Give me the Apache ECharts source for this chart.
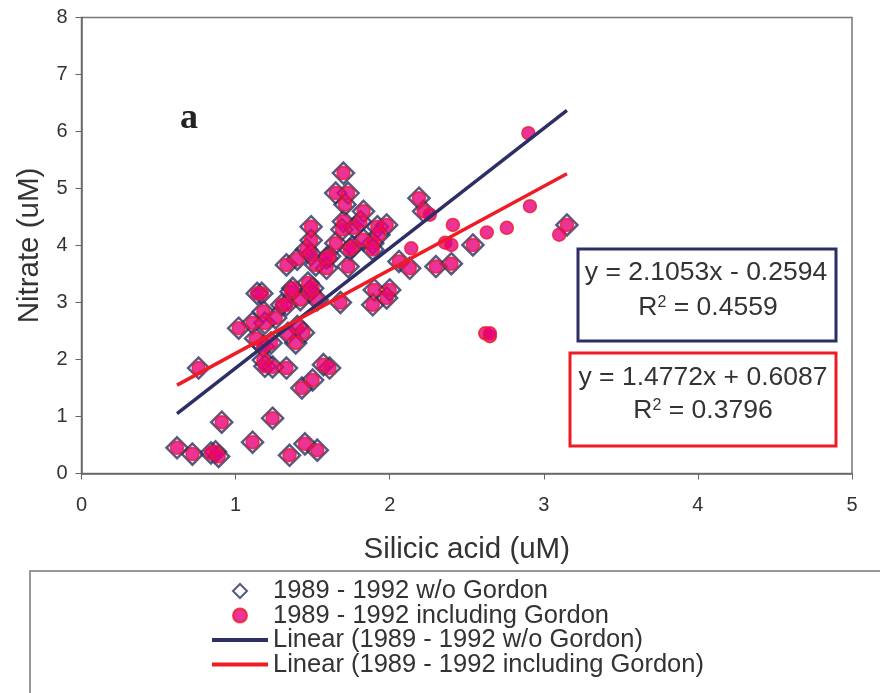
<!DOCTYPE html>
<html>
<head>
<meta charset="utf-8">
<script src="https://cdn.jsdelivr.net/npm/echarts@6/dist/echarts.min.js"></script>
<style>
  html, body { margin: 0; padding: 0; background: #fff; }
  #chart { width: 880px; height: 693px; }
</style>
</head>
<body>
<div id="chart"></div>
<script>
// points: [silicic acid, nitrate]
const withoutGordon = [
    [0.62, 0.45], [0.72, 0.34], [0.84, 0.36], [0.87, 0.38], [0.89, 0.30], [0.91, 0.90],
    [1.11, 0.55], [1.24, 0.97], [1.35, 0.32], [1.45, 0.52], [1.53, 0.41], [0.76, 1.85],
    [1.02, 2.55], [1.11, 2.64], [1.18, 2.84], [1.19, 2.64], [1.26, 2.73], [1.13, 2.37],
    [1.18, 2.23], [1.23, 2.29], [1.18, 1.99], [1.19, 1.88], [1.24, 1.87], [1.33, 1.85],
    [1.34, 2.46], [1.40, 2.58], [1.39, 2.29], [1.44, 2.47], [1.30, 2.96], [1.33, 2.96],
    [1.42, 3.05], [1.17, 3.16], [1.14, 3.16], [1.36, 3.19], [1.48, 3.19], [1.53, 3.05],
    [1.57, 1.91], [1.61, 1.85], [1.50, 1.64], [1.43, 1.50], [1.68, 3.00], [1.37, 3.25],
    [1.47, 3.34], [1.50, 3.25],
    [1.70, 5.27], [1.65, 4.92], [1.73, 4.92], [1.71, 4.72], [1.83, 4.60], [1.70, 4.42],
    [1.69, 4.28], [1.77, 4.31], [1.81, 4.42], [1.92, 4.33], [1.98, 4.36], [1.93, 4.19],
    [1.83, 4.10], [1.89, 4.04], [1.76, 3.98], [1.74, 3.93], [1.89, 3.93], [1.65, 4.04],
    [1.61, 3.81], [1.73, 3.63], [1.49, 4.33], [1.49, 4.09], [1.46, 3.93], [1.49, 3.84],
    [1.40, 3.76], [1.33, 3.66], [1.52, 3.66], [1.59, 3.78], [1.59, 3.60],
    [2.19, 4.83], [2.22, 4.60], [2.06, 3.72], [2.13, 3.60], [2.30, 3.63], [2.40, 3.68],
    [2.54, 4.01], [3.15, 4.36], [1.90, 3.22], [2.00, 3.22], [1.98, 3.08], [1.89, 2.96]
];

// extra points that only appear in the "including Gordon" set
const gordonOnly = [
    [2.26, 4.54], [2.14, 3.95], [2.41, 4.36], [2.36, 4.05], [2.40, 4.01], [2.63, 4.23],
    [2.76, 4.31], [2.91, 4.69], [2.90, 5.97], [3.10, 4.19], [2.62, 2.46], [2.65, 2.41],
    [2.65, 2.46]
];

const includingGordon = withoutGordon.concat(gordonOnly);

// trend line end points
const trendWithout = [[0.62, 1.05], [3.15, 6.37]];
const trendIncluding = [[0.62, 1.55], [3.15, 5.26]];

const seriesNames = [
    '1989 - 1992 w/o Gordon',
    '1989 - 1992 including Gordon',
    'Linear (1989 - 1992 w/o Gordon)',
    'Linear (1989 - 1992 including Gordon)'
];
const eqWithout = ['y = 2.1053x - 0.2594', '0.4559'];
const eqIncluding = ['y = 1.4772x + 0.6087', '0.3796'];

const navy = '#2e2e66';
const red = '#ee1c25';
const pink = '#e6007e';
const font = "'Liberation Sans', Arial, sans-serif";

const chart = echarts.init(document.getElementById('chart'));

// R-squared line with a raised 2
function r2Text(x, y, val) {
    return {
        type: 'text', x: x, y: y, z: 11,
        style: {
            text: '{b|R}{s|2}{b| = ' + val + '}',
            align: 'center', verticalAlign: 'middle',
            rich: {
                b: { fontSize: 26.5, fontFamily: font, fill: '#333', color: '#333', verticalAlign: 'bottom' },
                s: { fontSize: 16, fontFamily: font, fill: '#333', color: '#333', verticalAlign: 'top' }
            }
        }
    };
}

const option = {
    animation: false,
    backgroundColor: '#fff',
    textStyle: { fontFamily: font },
    grid: {
        left: 81.5, right: 28, top: 17.5, bottom: 219.5,
        show: true, borderColor: '#777', borderWidth: 1.5
    },
    xAxis: {
        type: 'value', min: 0, max: 5, interval: 1,
        name: 'Silicic acid (uM)', nameLocation: 'middle', nameGap: 61,
        nameTextStyle: { fontSize: 29.5, color: '#333', fontFamily: font },
        axisLine: { lineStyle: { color: '#666', width: 1.5 } },
        axisTick: { length: 6, lineStyle: { color: '#666' } },
        axisLabel: { margin: 22, fontSize: 20, color: '#333', fontFamily: font },
        splitLine: { show: false }
    },
    yAxis: {
        type: 'value', min: 0, max: 8, interval: 1,
        name: 'Nitrate (uM)', nameLocation: 'middle', nameGap: 37,
        nameTextStyle: { fontSize: 29.5, color: '#333', fontFamily: font },
        axisLine: { show: true, lineStyle: { color: '#666', width: 1.5 } },
        axisTick: { show: true, length: 6, lineStyle: { color: '#666' } },
        axisLabel: { margin: 14, fontSize: 20, color: '#333', fontFamily: font },
        splitLine: { show: false }
    },
    legend: {
        orient: 'vertical', left: 212, top: 578, padding: 0,
        itemWidth: 56, itemHeight: 14, itemGap: -1.5,
        textStyle: { fontSize: 25.5, color: '#333', fontFamily: font },
        data: [
            { name: seriesNames[0], icon: 'path://M0,-1L1,0L0,1L-1,0Z', itemStyle: { color: 'rgba(255,255,255,0)', borderColor: navy, borderWidth: 2 } },
            { name: seriesNames[1], icon: 'circle' },
            { name: seriesNames[2], icon: 'path://M0,0H56V4H0Z' },
            { name: seriesNames[3], icon: 'path://M0,0H56V4H0Z' }
        ]
    },
    series: [
        {
            name: seriesNames[0], type: 'scatter', symbol: 'diamond', symbolSize: 21,
            itemStyle: { color: 'rgba(255,255,255,0)', borderColor: navy, borderWidth: 2.5 },
            data: withoutGordon
        },
        {
            name: seriesNames[1], type: 'scatter', symbol: 'circle', symbolSize: 13,
            itemStyle: { color: pink, borderColor: red, borderWidth: 1.5 },
            data: includingGordon
        },
        {
            name: seriesNames[2], type: 'line', symbol: 'none',
            lineStyle: { color: navy, width: 3.5 }, itemStyle: { color: navy },
            data: trendWithout
        },
        {
            name: seriesNames[3], type: 'line', symbol: 'none',
            lineStyle: { color: red, width: 3.5 }, itemStyle: { color: red },
            data: trendIncluding
        }
    ],
    graphic: [
        {
            type: 'text', left: 180, top: 101,
            style: { text: 'a', font: "bold 36px 'Liberation Serif', 'DejaVu Serif', serif", fill: '#222' }
        },
        {
            type: 'rect', shape: { x: 578, y: 249, width: 258, height: 92 },
            style: { fill: '#fff', stroke: navy, lineWidth: 3 }, z: 10
        },
        {
            type: 'text', x: 706, y: 273, z: 11,
            style: { text: eqWithout[0], align: 'center', verticalAlign: 'middle', font: '26.5px ' + font, fill: '#333' }
        },
        r2Text(708, 308, eqWithout[1]),
        {
            type: 'rect', shape: { x: 570, y: 353, width: 266, height: 93 },
            style: { fill: '#fff', stroke: red, lineWidth: 3 }, z: 10
        },
        {
            type: 'text', x: 703, y: 378, z: 11,
            style: { text: eqIncluding[0], align: 'center', verticalAlign: 'middle', font: '26.5px ' + font, fill: '#333' }
        },
        r2Text(703, 411, eqIncluding[1]),
        {
            type: 'rect', shape: { x: 30, y: 571, width: 900, height: 160 },
            style: { fill: 'none', stroke: '#777', lineWidth: 1.5 }
        }
    ]
};

chart.setOption(option);
</script>
</body>
</html>
